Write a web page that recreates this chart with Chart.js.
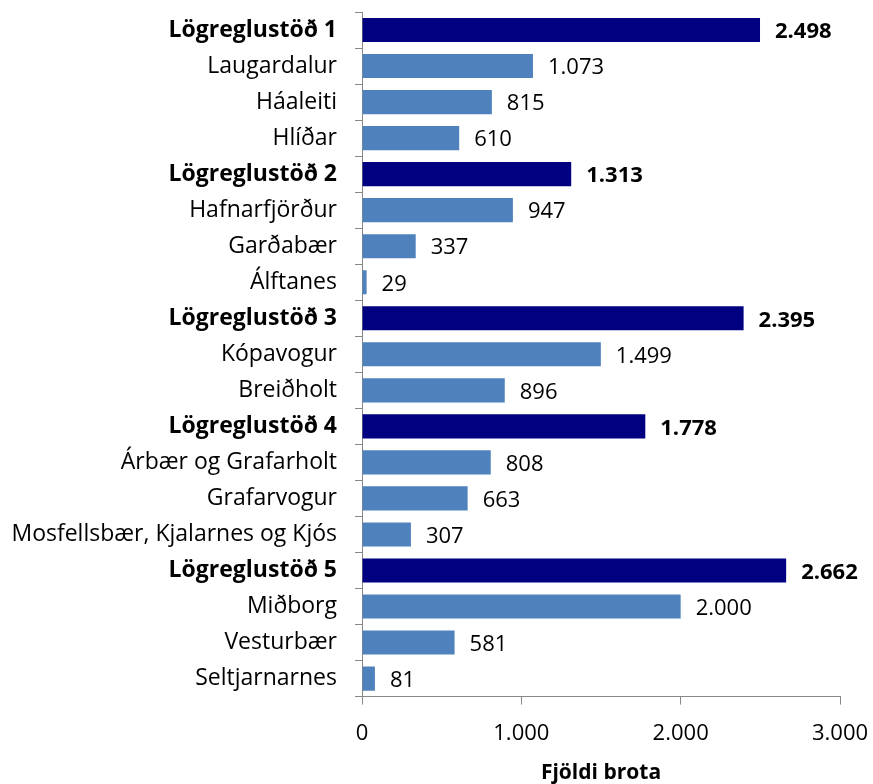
<!DOCTYPE html>
<html>
<head>
<meta charset="utf-8">
<script src="https://cdn.jsdelivr.net/npm/chart.js@4"></script>
<style>
    body { margin: 0; background: #fff; }
    #wrap { width: 873px; height: 784px; }
</style>
</head>
<body>
<div id="wrap"><canvas id="chart" width="873" height="784"></canvas></div>
<script>
const labels = [
    "Lögreglustöð 1", "Laugardalur", "Háaleiti", "Hlíðar",
    "Lögreglustöð 2", "Hafnarfjörður", "Garðabær", "Álftanes",
    "Lögreglustöð 3", "Kópavogur", "Breiðholt",
    "Lögreglustöð 4", "Árbær og Grafarholt", "Grafarvogur", "Mosfellsbær, Kjalarnes og Kjós",
    "Lögreglustöð 5", "Miðborg", "Vesturbær", "Seltjarnarnes"
];
const values = [2498, 1073, 815, 610, 1313, 947, 337, 29, 2395, 1499, 896, 1778, 808, 663, 307, 2662, 2000, 581, 81];
const xTicks = [0, 1000, 2000, 3000];

const FONT = "'Open Sans', 'Noto Sans', sans-serif";
const isStation = labels.map(l => l.startsWith("Lögreglustöð"));

function fmt(v) {
    return String(v).replace(/\B(?=(\d{3})+(?!\d))/g, ".");
}

// labels to the right of each bar
const valueLabels = {
    id: "valueLabels",
    afterDatasetsDraw(chart) {
        const ctx = chart.ctx;
        const meta = chart.getDatasetMeta(0);
        ctx.save();
        ctx.fillStyle = "#000";
        ctx.textBaseline = "middle";
        ctx.textAlign = "left";
        meta.data.forEach((bar, i) => {
            ctx.font = (isStation[i] ? "bold " : "") + "22px " + FONT;
            ctx.fillText(fmt(values[i]), bar.x + 15, bar.y + 2);
        });
        ctx.restore();
    }
};

new Chart(document.getElementById("chart"), {
    type: "bar",
    data: {
        labels: labels,
        datasets: [{
            data: values,
            backgroundColor: isStation.map(s => s ? "#000080" : "#4F81BD"),
            categoryPercentage: 1,
            barPercentage: 0.67
        }]
    },
    options: {
        indexAxis: "y",
        responsive: false,
        animation: false,
        layout: { padding: { left: 8, top: 12, right: 33, bottom: 0 } },
        plugins: { legend: { display: false }, tooltip: { enabled: false } },
        scales: {
            y: {
                afterFit: s => { s.width = 354; s.paddingTop = 0; s.paddingBottom = 0; },
                grid: { drawOnChartArea: false, tickLength: 7, color: "#888" },
                border: { color: "#888" },
                ticks: {
                    color: "#000",
                    padding: 18,
                    font: c => ({ family: FONT, size: 23, weight: isStation[c.index] ? "bold" : "normal" })
                }
            },
            x: {
                min: 0,
                max: 3000,
                afterBuildTicks: s => { s.ticks = xTicks.map(v => ({ value: v })); },
                afterFit: s => { s.paddingLeft = 0; s.paddingRight = 0; },
                grid: { drawOnChartArea: false, tickLength: 8, color: "#888" },
                border: { color: "#888" },
                ticks: {
                    color: "#000",
                    padding: 16,
                    font: { family: FONT, size: 22 },
                    callback: v => fmt(v)
                },
                title: {
                    display: true,
                    text: "Fjöldi brota",
                    color: "#000",
                    font: { family: FONT, size: 21, weight: "bold", lineHeight: 1 },
                    padding: { top: 0, bottom: 0 }
                }
            }
        }
    },
    plugins: [valueLabels]
});
</script>
</body>
</html>
